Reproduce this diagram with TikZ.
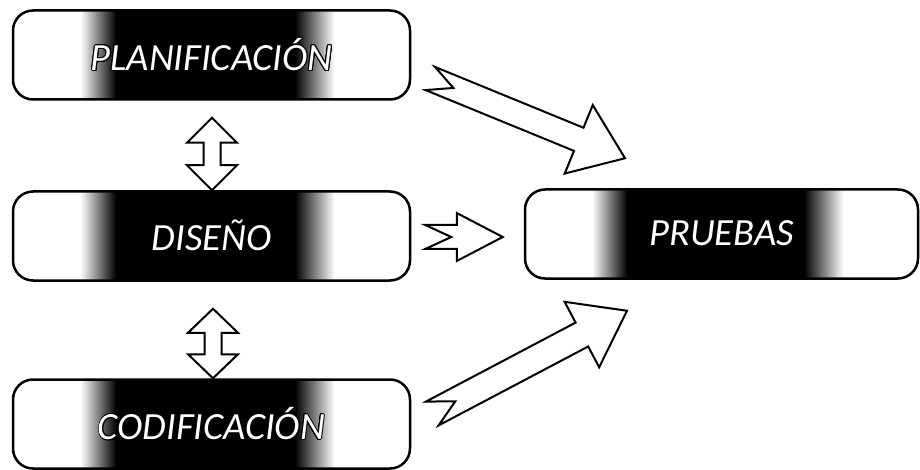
\documentclass[tikz,border=0pt]{standalone}
\usepackage{fontspec}
\setmainfont{Carlito}
\usepackage{contour}
\contourlength{0.9pt}
\usetikzlibrary{calc}

% dark patch in the middle of each stage box
\pgfdeclarehorizontalshading{blotch}{100bp}{color(0bp)=(white); color(33.5bp)=(white); color(38bp)=(black); color(60.5bp)=(black); color(65.5bp)=(white); color(100bp)=(white)}

\tikzset{every picture/.style={line width=0.75pt}}
\tikzset{
  stage/.style={draw, line width=2.5pt, rounded corners=20pt, shade, shading=blotch,
    minimum height=89pt, inner sep=0pt, text=white, font=\fontsize{38.5}{38.5}\selectfont\itshape},
  arrowline/.style={draw, line width=2pt, fill=white, line join=miter}
}

% notched block arrow: tail, tip, half shaft, half head, head length, notch depth
\newcommand\notcharrow[6]{%
  \coordinate (#1-base) at ($(#2)!#5!(#1)$);
  \draw[arrowline] ($(#1)!#3!90:(#2)$) -- ($(#1-base)!#3!-90:(#1)$) -- ($(#1-base)!#4!-90:(#1)$) -- (#2)
    -- ($(#1-base)!#4!90:(#1)$) -- ($(#1-base)!#3!90:(#1)$) -- ($(#1)!#3!-90:(#2)$) -- ($(#1)!#6!(#2)$) -- cycle;
}
% two headed block arrow: one tip, other tip, half shaft, half head, head length
\newcommand\twowayarrow[5]{%
  \coordinate (#1-base) at ($(#1)!#5!(#2)$);
  \coordinate (#2-base) at ($(#2)!#5!(#1)$);
  \draw[arrowline] (#1) -- ($(#1-base)!#4!90:(#2)$) -- ($(#1-base)!#3!90:(#2)$) -- ($(#2-base)!#3!-90:(#1)$)
    -- ($(#2-base)!#4!-90:(#1)$) -- (#2) -- ($(#2-base)!#4!90:(#1)$) -- ($(#2-base)!#3!90:(#1)$)
    -- ($(#1-base)!#3!-90:(#2)$) -- ($(#1-base)!#4!-90:(#2)$) -- cycle;
}

\begin{document}
\begin{tikzpicture}[x=1pt,y=1pt,yscale=-1,xscale=1]
\useasboundingbox (0,0) rectangle (920,470);

% stages
\node[stage, minimum width=397pt] (plan) at (211.5,55) {\contour{black}{PLANIFICACIÓN}};
\node[stage, minimum width=397pt] (dis) at (211.5,236) {\contour{black}{DISEÑO}};
\node[stage, minimum width=397pt] (cod) at (211.5,424) {\contour{black}{CODIFICACIÓN}};
\node[stage, minimum width=393pt] (pru) at (721.5,234) {\contour{black}{PRUEBAS}};

% ends of the block arrows
\coordinate (planup) at ($(plan.south)+(0.5,17)$);
\coordinate (disdown) at ($(dis.north)+(0.5,0)$);
\coordinate (disup) at ($(dis.south)+(1.5,27)$);
\coordinate (coddown) at ($(cod.north)+(1.5,0)$);
\coordinate (plantail) at ($(plan.east)+(19,23.5)$);
\coordinate (plantip) at ($(pru.north)+(-96.5,-30)$);
\coordinate (distail) at ($(dis.east)+(14,1)$);
\coordinate (distip) at ($(pru.west)+(-21,3)$);
\coordinate (codtail) at ($(cod.east)+(21,-10.5)$);
\coordinate (codtip) at ($(pru.south)+(-94.5,31)$);

% arrows
\twowayarrow{planup}{disdown}{8.5pt}{25pt}{25pt}
\twowayarrow{disup}{coddown}{8.5pt}{25pt}{24pt}
\notcharrow{plantail}{plantip}{12.5pt}{37pt}{50pt}{25pt}
\notcharrow{distail}{distip}{12pt}{24pt}{46pt}{26pt}
\notcharrow{codtail}{codtip}{13.5pt}{37pt}{51pt}{26pt}

\end{tikzpicture}
\end{document}
